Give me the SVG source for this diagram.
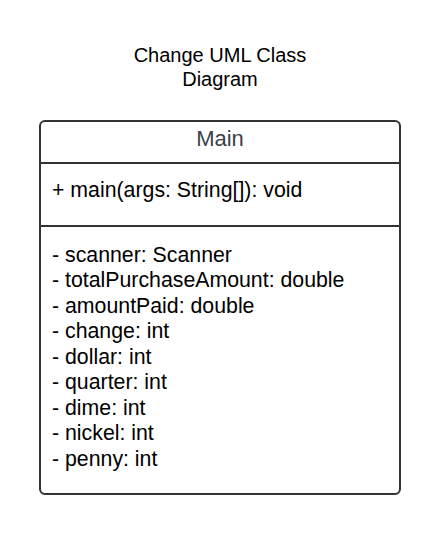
<svg xmlns="http://www.w3.org/2000/svg" width="440" height="534" viewBox="0 0 440 534">
  <style>
    .title { font-family: "Liberation Sans", Arial, sans-serif; font-size: 20px; fill: #000; text-anchor: middle; }
    .cls-name { font-family: "Liberation Sans", Arial, sans-serif; font-size: 22px; fill: #3a414a; text-anchor: middle; }
    .member { font-family: "Liberation Sans", Arial, sans-serif; font-size: 21.3px; fill: #000; }
    .frame { fill: #fff; stroke: #333; stroke-width: 2; }
    .divider { stroke: #333; stroke-width: 2; }
  </style>
  <rect width="440" height="534" fill="#fff"/>

  <!-- diagram caption -->
  <g id="caption">
    <text class="title" x="220" y="62">Change UML Class</text>
    <text class="title" x="220" y="86">Diagram</text>
  </g>

  <!-- class Main -->
  <g id="class-main">
    <rect class="frame" x="40" y="121" width="360" height="373" rx="5" ry="5"/>
    <line class="divider" x1="40" y1="163" x2="400" y2="163"/>
    <line class="divider" x1="40" y1="226" x2="400" y2="226"/>
    <text class="cls-name" x="220" y="146">Main</text>
    <text class="member" x="52" y="197">+ main(args: String[]): void</text>
    <text class="member" x="52" y="262">- scanner: Scanner</text>
    <text class="member" x="52" y="287">- totalPurchaseAmount: double</text>
    <text class="member" x="52" y="313">- amountPaid: double</text>
    <text class="member" x="52" y="338">- change: int</text>
    <text class="member" x="52" y="364">- dollar: int</text>
    <text class="member" x="52" y="389">- quarter: int</text>
    <text class="member" x="52" y="415">- dime: int</text>
    <text class="member" x="52" y="440">- nickel: int</text>
    <text class="member" x="52" y="466">- penny: int</text>
  </g>

  <!-- no connectors in this diagram -->
  <g id="connectors"/>
</svg>
